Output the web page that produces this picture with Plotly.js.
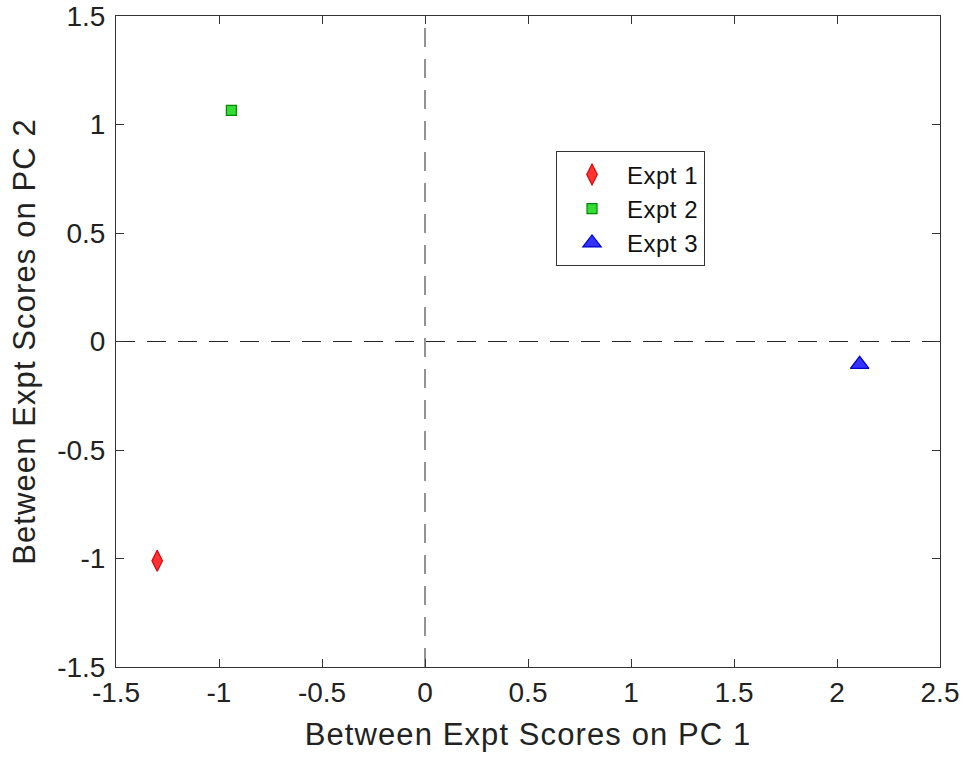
<!DOCTYPE html>
<html><head><meta charset="utf-8">
<script src="https://cdn.plot.ly/plotly-3.0.1.min.js"></script>
<style>
body{margin:0;background:#fff}#chart{width:963px;height:757px}
.g-xtitle text, .g-ytitle text { letter-spacing: 1.1px; }
.legendtext { letter-spacing: 0.5px; }
</style>
</head><body><div id="chart"></div>
<script>
const seriesNames = ["Expt 1", "Expt 2", "Expt 3"];
const pc1 = [-1.30, -0.94, 2.11];
const pc2 = [-1.01, 1.065, -0.105];
const xTickVals = [-1.5, -1, -0.5, 0, 0.5, 1, 1.5, 2, 2.5];
const xTickText = ["-1.5", "-1", "-0.5", "0", "0.5", "1", "1.5", "2", "2.5"];
const yTickVals = [-1.5, -1, -0.5, 0, 0.5, 1, 1.5];
const yTickText = ["-1.5", "-1", "-0.5", "0", "0.5", "1", "1.5"];
const fillColors = ["#ff3333", "#33dd33", "#3333ff"];
const lineColors = ["#dd0000", "#008800", "#0000cc"];
const symbols = ["diamond-tall", "square", "triangle-up"];
const sizes = [15, 10, 16];

const traces = seriesNames.map((n, i) => ({
  x: [pc1[i]], y: [pc2[i]], name: n, type: "scatter", mode: "markers",
  marker: {symbol: symbols[i], size: sizes[i], color: fillColors[i], line: {color: lineColors[i], width: 1.2}}
}));

const font = "Liberation Sans, Arial, Helvetica, sans-serif";
const layout = {
  width: 963, height: 757,
  margin: {l: 116, r: 23, t: 16, b: 90},
  paper_bgcolor: "#fff", plot_bgcolor: "#fff",
  font: {family: font, color: "#222", size: 20},
  showlegend: true,
  legend: {x: 0.534, y: 0.792, xanchor: "left", yanchor: "top", bordercolor: "#333", borderwidth: 1,
           bgcolor: "#fff", font: {size: 24, color: "#111"}, itemwidth: 60, tracegroupgap: 0},
  xaxis: {range: [-1.5, 2.5], tickmode: "array", tickvals: xTickVals, ticktext: xTickText,
          ticks: "inside", ticklen: 8, tickcolor: "#333",
          showline: true, linecolor: "#333", linewidth: 1, mirror: "ticks", showgrid: false, zeroline: false,
          tickfont: {size: 28, color: "#222"},
          title: {text: "Between Expt Scores on PC 1", font: {size: 31, color: "#222"}, standoff: 16}},
  yaxis: {range: [-1.5, 1.5], tickmode: "array", tickvals: yTickVals, ticktext: yTickText,
          ticks: "inside", ticklen: 8, tickcolor: "#333", ticklabelstandoff: 4,
          showline: true, linecolor: "#333", linewidth: 1, mirror: "ticks", showgrid: false, zeroline: false,
          tickfont: {size: 28, color: "#222"},
          title: {text: "Between Expt Scores on PC 2", font: {size: 31, color: "#222"}, standoff: 12}},
  shapes: [
    {type: "line", xref: "x", yref: "paper", x0: 0, x1: 0, y0: 0, y1: 1, line: {color: "#262626", width: 1, dash: "19px,12px"}, layer: "below"},
    {type: "line", xref: "paper", yref: "y", x0: 0, x1: 1, y0: 0, y1: 0, line: {color: "#262626", width: 1, dash: "19px,12px"}, layer: "below"}
  ]
};
Plotly.newPlot("chart", traces, layout, {displayModeBar: false});
</script></body></html>
